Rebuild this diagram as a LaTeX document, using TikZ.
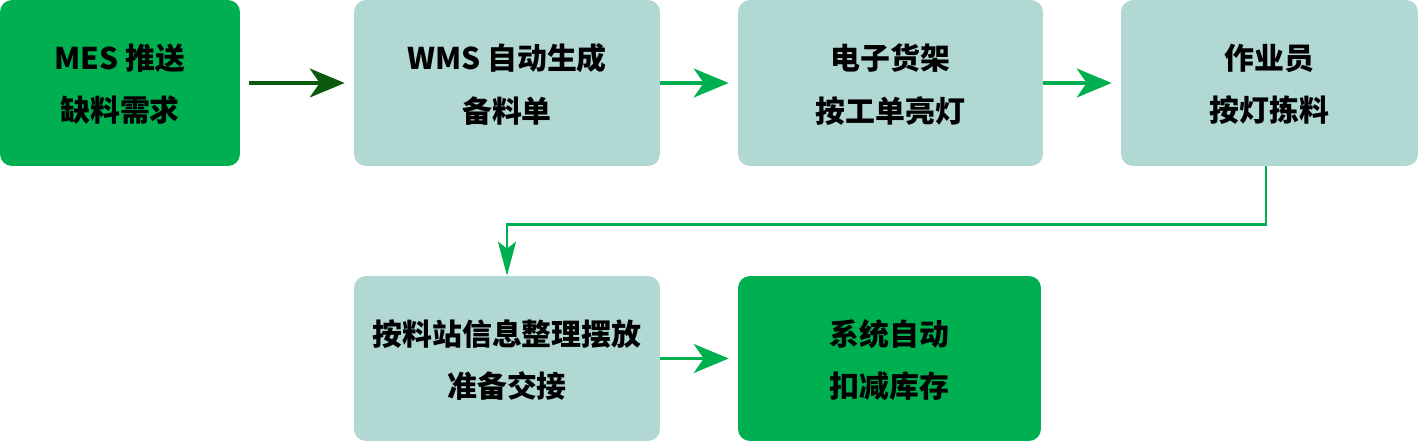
\documentclass[tikz,border=0pt]{standalone}
\usepackage{fontspec}
\setmainfont{Noto Sans CJK SC}
\usepackage{tikz}
\usetikzlibrary{positioning,arrows.meta}

\definecolor{mesgreen}{HTML}{00B050}
\definecolor{steppale}{HTML}{B2D8D4}
\definecolor{darkarrow}{HTML}{0C5A0E}

\tikzset{
  flowbox/.style={rounded corners=0.24cm, inner sep=0pt, align=center,
    font=\bfseries\fontsize{17}{29.8}\selectfont, minimum height=3.32cm,
    text depth=-1.2pt},
  palebox/.style={flowbox, fill=steppale},
  greenbox/.style={flowbox, fill=mesgreen},
  flowarrow/.style={draw=mesgreen, line width=1.8pt,
    -{Stealth[length=0.7cm, width=0.58cm, inset=0.2cm]}, shorten >=0.18cm}
}

\begin{document}
\begin{tikzpicture}[x=0.02cm,y=-0.02cm]

\useasboundingbox (0,0) rectangle (1419,442);

% first row
\node[greenbox, minimum width=4.8cm] (mes) at (120,83) {MES 推送\\缺料需求};
\node[palebox, minimum width=6.12cm] (wms) at (507,83) {WMS 自动生成\\备料单};
\node[palebox, minimum width=6.1cm] (shelf) at (890.5,83) {电子货架\\按工单亮灯};
\node[palebox, minimum width=5.94cm] (worker) at (1269.5,83) {作业员\\按灯拣料};

% second row
\node[palebox, minimum width=6.12cm, minimum height=3.3cm] (station) at (507,358.5) {按料站信息整理摆放\\准备交接};
\node[greenbox, minimum width=6.06cm, minimum height=3.3cm] (stock) at (889.5,358.5) {系统自动\\扣减库存};

\draw[flowarrow, draw=darkarrow, shorten <=0.18cm] (mes) -- (wms);
\draw[flowarrow] (wms) -- (shelf);
\draw[flowarrow] (shelf) -- (worker);
\draw[draw=mesgreen, line width=1.4pt,
  -{Stealth[length=0.68cm, width=0.36cm, inset=0.14cm]}]
  ([xshift=-0.07cm]worker.south) -- ++(0,58) -| (station.north);
\draw[flowarrow] (station) -- (stock);

\end{tikzpicture}
\end{document}
